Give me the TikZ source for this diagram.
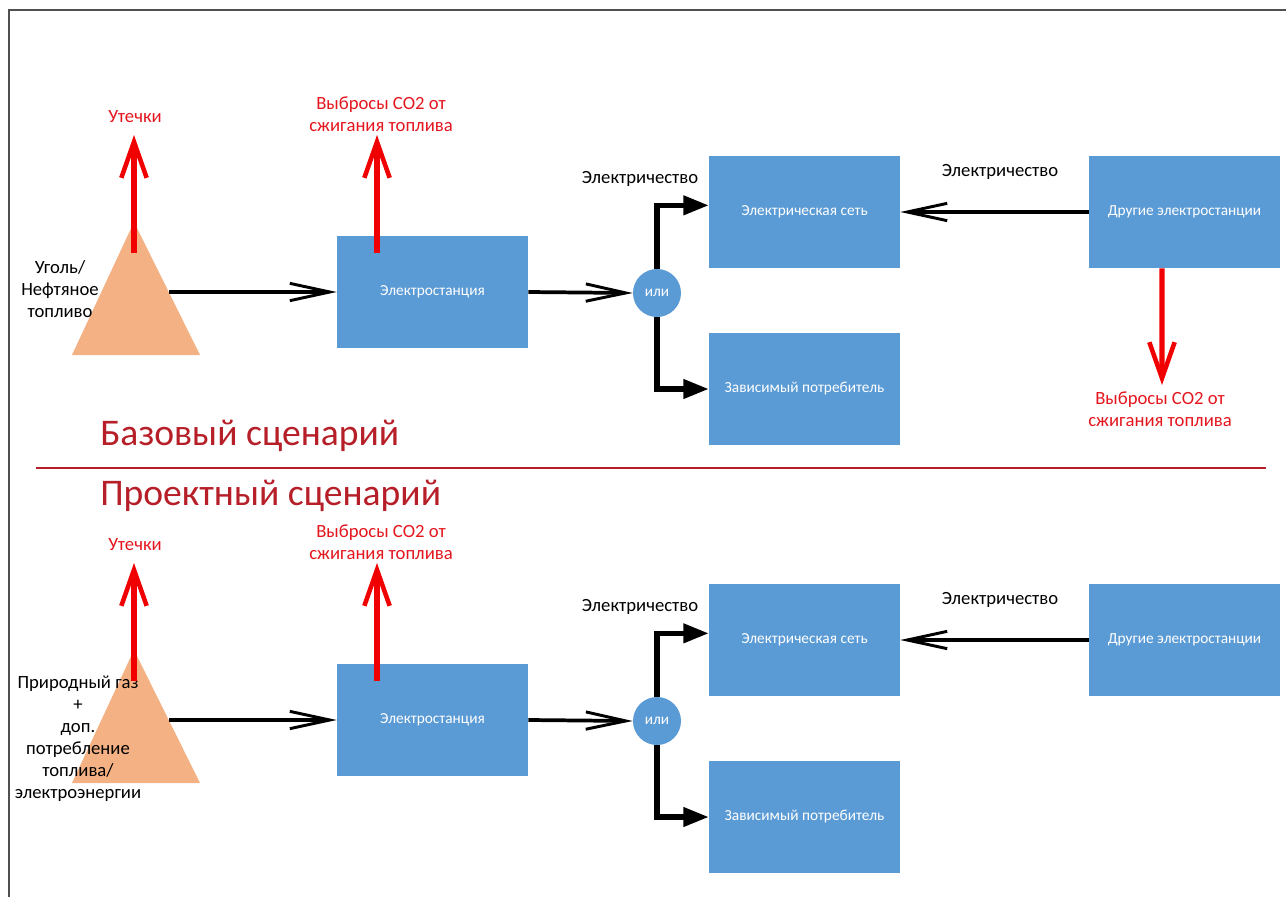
\documentclass[tikz,border=0pt]{standalone}
\usepackage{fontspec}
\setmainfont{Carlito}
\usetikzlibrary{arrows.meta}
\definecolor{boxblue}{HTML}{5B9BD5}
\definecolor{triorange}{HTML}{F4B183}
\definecolor{arrred}{RGB}{240,0,0}
\definecolor{lblred}{RGB}{228,22,30}
\definecolor{titlered}{RGB}{182,30,40}
\definecolor{framegray}{RGB}{80,80,80}
\tikzset{
  box/.style={fill=boxblue, draw=none, minimum width=143.25pt, minimum height=84pt, inner sep=0pt, text=white, font=\fontsize{11.5}{13}\selectfont},
  orbox/.style={circle, fill=boxblue, draw=none, minimum size=36pt, inner sep=0pt, text=white, font=\fontsize{11.5}{13}\selectfont},
  blk/.style={line width=2.8pt, draw=black, -{Straight Barb[length=30pt, width=13pt, line width=2.2pt]}},
  branch/.style={line width=3.8pt, draw=black, line join=miter, -{Triangle[length=19pt, width=14pt]}},
  redarr/.style={line width=3.8pt, draw=arrred, -{Straight Barb[length=27pt, width=19pt, line width=3.4pt]}},
  redlbl/.style={text=lblred, align=center, inner sep=0pt, font=\fontsize{14}{16.5}\selectfont},
  blklbl/.style={text=black, align=center, inner sep=0pt, font=\fontsize{14}{16.5}\selectfont},
  title/.style={text=titlered, inner sep=0pt, anchor=base west, font=\fontsize{28.2}{32}\selectfont},
  tri/.style={fill=triorange, draw=none}
}
\begin{document}
\begin{tikzpicture}[x=0.75pt, y=-0.75pt]
\useasboundingbox (0,0) rectangle (1286,897);
\fill[white] (0,0) rectangle (1286,897);
% frame
\draw[framegray, line width=1.6pt] (9,897) -- (9,10) -- (1286,10);

% ===== Base scenario =====
\fill[tri] (134,222) -- (200,355) -- (72,355) -- cycle;
\coordinate (tri1r) at (169,292);
\coordinate (leak1src) at (134,253);
\coordinate (leak1tip) at (134,135);
\node[box] (es1) at (432.5,292) {Электростанция};
\node[box] (grid1) at (804.5,212) {Электрическая сеть};
\node[box] (cons1) at (804.5,389) {Зависимый потребитель};
\node[box] (oth1) at (1184.5,212) {Другие электростанции};
\node[orbox] (or1) at (657,293) {или};
\coordinate (co1src) at (377,253);
\coordinate (co1tip) at (377,135);
\coordinate (co3tip) at (1162,385);

\node[blklbl] (fuel1) at (60,289) {Уголь/\\Нефтяное\\топливо};
\node[redlbl] (leak1) at (135,117) {Утечки};
\node[redlbl] (co1) at (381,114) {Выбросы CO2 от\\сжигания топлива};
\node[redlbl] (co3) at (1160,409) {Выбросы CO2 от\\сжигания топлива};
\node[blklbl] (el1) at (640,179) {Электричество};
\node[blklbl] (el2) at (1000,172) {Электричество};

\draw[blk] (tri1r) -- (es1.west);
\draw[blk] (es1.east) -- (or1.west);
\draw[branch] (or1.north) |- ([yshift=5pt]grid1.west);
\draw[branch] (or1.south) |- (cons1.west);
\draw[blk] (oth1.west) -- (grid1.east);
\draw[redarr] (leak1src) -- (leak1tip);
\draw[redarr] (co1src) -- (co1tip);
\draw[redarr] ([xshift=-16.9pt]oth1.south) -- (co3tip);

% titles and separator
\node[title] (t1) at (100,445) {Базовый сценарий};
\draw[titlered, line width=1.6pt] (36,468) -- (1266,468);
\node[title] (t2) at (100,505) {Проектный сценарий};

% ===== Project scenario =====
\fill[tri] (134,650) -- (200,783) -- (72,783) -- cycle;
\coordinate (tri2r) at (169,720);
\coordinate (leak2src) at (134,681);
\coordinate (leak2tip) at (134,563);
\node[box] (es2) at (432.5,720) {Электростанция};
\node[box] (grid2) at (804.5,640) {Электрическая сеть};
\node[box] (cons2) at (804.5,817) {Зависимый потребитель};
\node[box] (oth2) at (1184.5,640) {Другие электростанции};
\node[orbox] (or2) at (657,721) {или};
\coordinate (co2src) at (377,681);
\coordinate (co2tip) at (377,563);

\node[blklbl] (fuel2) at (78,739) {Природный газ\\+\\доп.\\потребление\\топлива/\\электроэнергии};
\node[redlbl] (leak2) at (135,545) {Утечки};
\node[redlbl] (co2) at (381,542) {Выбросы CO2 от\\сжигания топлива};
\node[blklbl] (el3) at (640,607) {Электричество};
\node[blklbl] (el4) at (1000,600) {Электричество};

\draw[blk] (tri2r) -- (es2.west);
\draw[blk] (es2.east) -- (or2.west);
\draw[branch] (or2.north) |- ([yshift=5pt]grid2.west);
\draw[branch] (or2.south) |- (cons2.west);
\draw[blk] (oth2.west) -- (grid2.east);
\draw[redarr] (leak2src) -- (leak2tip);
\draw[redarr] (co2src) -- (co2tip);
\end{tikzpicture}
\end{document}
